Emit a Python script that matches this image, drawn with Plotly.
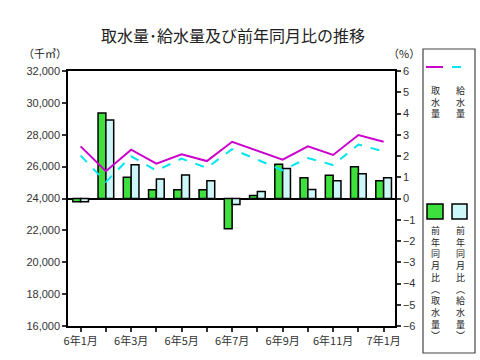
import plotly.graph_objects as go

months = ["6年1月", "6年2月", "6年3月", "6年4月", "6年5月", "6年6月", "6年7月",
          "6年8月", "6年9月", "6年10月", "6年11月", "6年12月", "7年1月"]
tick_text = [m if i % 2 == 0 else "" for i, m in enumerate(months)]

intake = [27270, 25710, 27060, 26190, 26770, 26350, 27560, 27000, 26440, 27270, 26730, 27980, 27560]
supply = [26690, 25040, 26650, 25750, 26500, 25920, 27100, 26440, 25770, 26540, 26100, 27380, 26960]
intake_yoy = [-0.15, 4.02, 1.0, 0.41, 0.41, 0.41, -1.42, 0.14, 1.61, 0.98, 1.09, 1.49, 0.83]
supply_yoy = [-0.15, 3.70, 1.59, 0.92, 1.11, 0.83, -0.28, 0.33, 1.41, 0.42, 0.83, 1.17, 0.98]

JP = "Noto Sans CJK JP"
NUM = "Liberation Sans, Noto Sans CJK JP"
GREEN = "#3ee03e"
CYAN = "#cdf6f8"

fig = go.Figure()
fig.add_trace(go.Bar(x=months, y=intake_yoy, yaxis="y", marker=dict(color=GREEN, line=dict(color="black", width=1.5)), showlegend=False))
fig.add_trace(go.Bar(x=months, y=supply_yoy, yaxis="y", marker=dict(color=CYAN, line=dict(color="black", width=1.5)), showlegend=False))
fig.add_trace(go.Scatter(x=months, y=intake, yaxis="y2", mode="lines", line=dict(color="#cc00cc", width=2), showlegend=False))
fig.add_trace(go.Scatter(x=months, y=supply, yaxis="y2", mode="lines", line=dict(color="#00e5ee", width=2, dash="dash"), showlegend=False))

L, R, T, B = 68, 395, 71, 326
W = R - L
H = B - T
def px(x):
    return (x - L) / W
def py(y):
    return (B - y) / H

shapes = []
annotations = []
# legend frame
shapes.append(dict(type="rect", xref="paper", yref="paper", x0=px(423), x1=px(475), y0=py(353), y1=py(49),
                   line=dict(color="#444", width=1.2), fillcolor="rgba(0,0,0,0)"))
# legend line samples
shapes.append(dict(type="line", xref="paper", yref="paper", x0=px(426), x1=px(443), y0=py(67), y1=py(67),
                   line=dict(color="#cc00cc", width=2)))
shapes.append(dict(type="line", xref="paper", yref="paper", x0=px(452), x1=px(468), y0=py(67), y1=py(67),
                   line=dict(color="#00e5ee", width=2, dash="dash")))
# legend swatches
shapes.append(dict(type="rect", xref="paper", yref="paper", x0=px(427), x1=px(443), y0=py(219), y1=py(204),
                   line=dict(color="black", width=1.5), fillcolor=GREEN))
shapes.append(dict(type="rect", xref="paper", yref="paper", x0=px(452), x1=px(467), y0=py(219), y1=py(204),
                   line=dict(color="black", width=1.5), fillcolor=CYAN))

def vtext(text, xc, ytop, size=9):
    annotations.append(dict(text="<br>".join(text), xref="paper", yref="paper", x=px(xc), y=py(ytop),
                            showarrow=False, xanchor="center", yanchor="top", align="center",
                            font=dict(family=JP, size=size, color="#222")))

vtext("取水量", 435, 82)
vtext("給水量", 460, 82)
vtext("前年同月比︵取水量︶", 435, 222)
vtext("前年同月比︵給水量︶", 460, 222)

annotations.append(dict(text="取水量･給水量及び前年同月比の推移", xref="paper", yref="paper", x=px(233), y=py(35),
                        showarrow=False, xanchor="center", yanchor="middle", font=dict(family=JP, size=16, color="#222")))
annotations.append(dict(text="（千㎥）", xref="paper", yref="paper", x=px(45), y=py(53),
                        showarrow=False, xanchor="center", yanchor="middle", font=dict(family=JP, size=11, color="#222")))
annotations.append(dict(text="（%）", xref="paper", yref="paper", x=px(404), y=py(53),
                        showarrow=False, xanchor="center", yanchor="middle", font=dict(family=JP, size=11, color="#222")))

fig.update_layout(
    width=480, height=360,
    margin=dict(l=L, r=480 - R, t=T, b=360 - B),
    paper_bgcolor="white", plot_bgcolor="white",
    barmode="group", bargap=0.38, bargroupgap=0.0,
    showlegend=False,
    xaxis=dict(type="category", tickmode="array", tickvals=months, ticktext=tick_text, range=[-0.5, 12.45],
               showline=True, mirror=True, linecolor="black", linewidth=1.5,
               ticks="outside", ticklen=4, tickcolor="#333", tickwidth=1.5,
               tickfont=dict(family=JP, size=11, color="#333"), showgrid=False),
    yaxis=dict(side="right", range=[-6, 6], dtick=1, showgrid=False,
               zeroline=True, zerolinecolor="black", zerolinewidth=1.5,
               showline=True, linecolor="black", linewidth=1.5,
               ticks="outside", ticklen=4, tickcolor="#333", tickwidth=1.5,
               tickfont=dict(family=NUM, size=11, color="#333")),
    yaxis2=dict(side="left", overlaying="y", range=[16000, 32000], dtick=2000, tickformat=",",
                showgrid=False, zeroline=False,
                showline=True, linecolor="black", linewidth=1.5,
                ticks="outside", ticklen=4, tickcolor="#333", tickwidth=1.5,
                tickfont=dict(family=NUM, size=11, color="#333")),
    shapes=shapes, annotations=annotations,
)

fig.write_html("out.html", config={"displayModeBar": False},
               post_script="document.body.style.margin='0px';document.body.style.overflow='hidden';")
